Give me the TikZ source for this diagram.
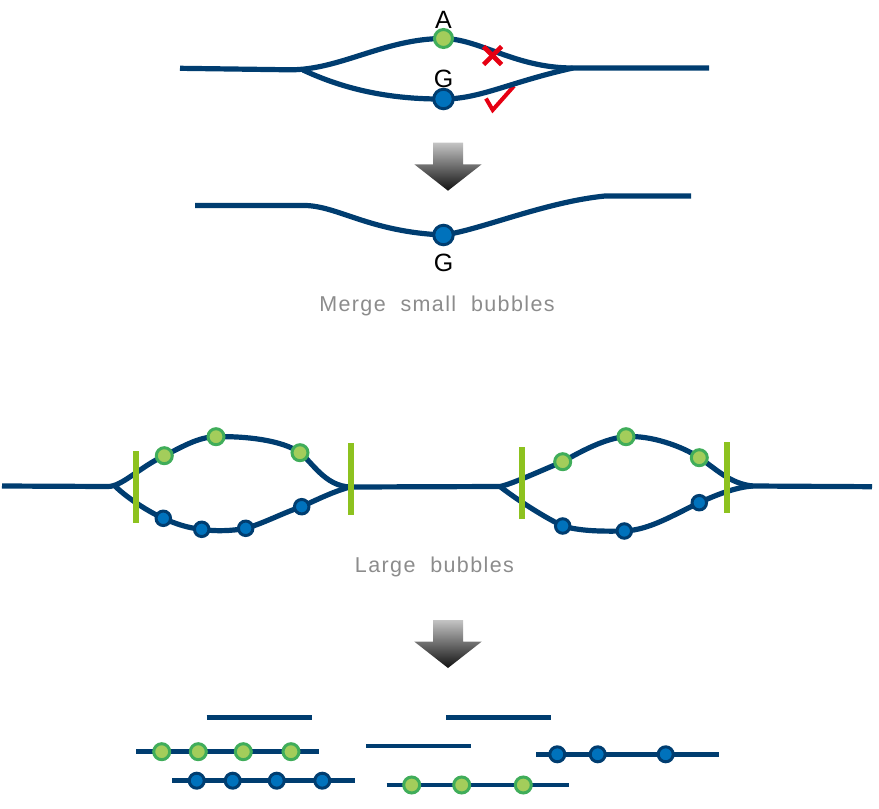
\documentclass[tikz,border=0pt]{standalone}
\usepackage{fontspec}
\setmainfont{Liberation Sans}
\newfontfamily\capfont[LetterSpace=6.5,WordSpace=2.0]{Liberation Sans}
\usetikzlibrary{calc}
\pgfdeclarelayer{bg}
\pgfsetlayers{bg,main}
\definecolor{navy}{HTML}{003D70}
\definecolor{gfill}{HTML}{A3CD5B}
\definecolor{gline}{HTML}{40AD5A}
\definecolor{bfill}{HTML}{0072BC}
\definecolor{bline}{HTML}{003D70}
\definecolor{barc}{HTML}{8DC21F}
\definecolor{redc}{HTML}{E60012}
\definecolor{textgray}{HTML}{8C8C8C}
\definecolor{arrtop}{HTML}{C4C4C4}
\definecolor{arrbot}{HTML}{111111}
\tikzset{
  strand/.style={draw=navy, line width=5.2pt, line cap=butt, line join=round},
  gdot/.style={circle, fill=gfill, draw=gline, line width=3pt, inner sep=0pt, minimum size=#1},
  gdot/.default=16pt,
  bdot/.style={circle, fill=bfill, draw=bline, line width=3pt, inner sep=0pt, minimum size=#1},
  bdot/.default=14.5pt,
  cutbar/.style={draw=barc, line width=5.8pt},
  lab/.style={font=\fontsize{25}{29}\selectfont, text=black, inner sep=0pt, anchor=base},
  caption/.style={font=\capfont\fontsize{21.5}{25}\selectfont, text=textgray, inner sep=0pt, anchor=base},
  mark red/.style={draw=redc, line width=4.6pt},
  downarr/.pic={
    \shade[top color=arrtop, bottom color=arrbot]
      (-15,0) -- (15,0) -- (15,21.6) -- (33.7,21.6) -- (0,48) -- (-33.7,21.6) -- (-15,21.6) -- cycle;
  }
}
\begin{document}
\begin{tikzpicture}[x=1pt,y=-1pt]
\useasboundingbox (0,0) rectangle (879,809);

% ================= TOP: small bubble =================
\node[gdot=18pt] (tA) at (443.5,38.5) {};
\node[bdot=19.5pt] (tG) at (443.5,99) {};
\node[lab] (tAl) at (443.5,28.3) {A};
\node[lab] (tGl) at (443.5,87.3) {G};
\coordinate (t0) at (180,68.3);
\coordinate (tk) at (290,69.8);
\coordinate (tj1) at (303,70);
\coordinate (tj2) at (573,68);
\coordinate (t9) at (709,68);
% red check (under the strands)
\coordinate (ck1) at (486,98.5);
\coordinate (ck2) at (492.7,110);
\coordinate (ck3) at (514,86);
\begin{pgfonlayer}{bg}
  \draw[draw=redc, line width=4pt, line join=miter] (ck1) -- (ck2) -- (ck3);
  \draw[strand] (t0) -- (tk) .. controls (340,70) and (385,38.5) .. (tA.center)
     .. controls (480,39) and (515,68) .. (tj2) -- (t9);
  \draw[strand] (tj1) .. controls (335,85) and (380,99.5) .. (tG.center)
     .. controls (480,99) and (510,82) .. (tj2);
\end{pgfonlayer}
% red cross
\coordinate (cx) at (492.5,55.5);
\draw[mark red] ($(cx)+(-9,-9)$) -- ($(cx)+(9,9)$);
\draw[mark red] ($(cx)+(-9,9)$) -- ($(cx)+(9,-9)$);

% arrow 1
\pic at (448,142.7) {downarr};

% ================= MIDDLE: merged =================
\node[bdot=19.5pt] (mG) at (443.5,235) {};
\node[lab] (mGl) at (443.5,271.5) {G};
\coordinate (m0) at (195,205.5);
\coordinate (m1) at (305,205.5);
\coordinate (m2) at (605,196);
\coordinate (m3) at (691,196);
\begin{pgfonlayer}{bg}
  \draw[strand] (m0) -- (m1) .. controls (338,206) and (370,232) .. (mG.center)
     .. controls (480,230) and (545,202) .. (m2) -- (m3);
\end{pgfonlayer}
\node[caption] (cap1) at (437,311.5) {Merge small bubbles};

% ================= LARGE BUBBLES =================
% left bubble
\coordinate (L0) at (2,486);
\coordinate (Lk) at (108,486.5);
\coordinate (Lj) at (115,486);
\coordinate (Lr) at (350,487);
\node[gdot] (lg1) at (164.3,455.7) {};
\node[gdot] (lg2) at (216,436.7) {};
\node[gdot] (lg3) at (300,452.7) {};
\node[bdot] (lb1) at (163.3,518.3) {};
\node[bdot] (lb2) at (201.7,529.3) {};
\node[bdot] (lb3) at (245.7,528.3) {};
\node[bdot] (lb4) at (301.7,506.7) {};
% right bubble
\coordinate (Rj) at (500,486.5);
\coordinate (Rr) at (753,486);
\coordinate (R9) at (872,486.7);
\node[gdot] (rg1) at (562.7,461.7) {};
\node[gdot] (rg2) at (626,436.7) {};
\node[gdot] (rg3) at (699.3,457.7) {};
\node[bdot] (rb1) at (562.7,526) {};
\node[bdot] (rb2) at (624.3,531) {};
\node[bdot] (rb3) at (699.3,502.7) {};
\begin{pgfonlayer}{bg}
  \draw[strand] (L0) -- (Lk) .. controls (122,486.5) and (140,467) .. (lg1.center)
     .. controls (182,447) and (198,437) .. (lg2.center)
     .. controls (245,436) and (282,440) .. (lg3.center)
     .. controls (312,462) and (325,486) .. (Lr) -- (Rj)
     .. controls (512,484) and (540,471) .. (rg1.center)
     .. controls (580,452) and (605,438) .. (rg2.center)
     .. controls (650,435) and (682,446) .. (rg3.center)
     .. controls (715,468) and (730,484) .. (Rr) -- (R9);
  \draw[strand] (Lj) .. controls (125,496) and (145,510) .. (lb1.center)
     .. controls (176,524) and (188,528) .. (lb2.center)
     .. controls (215,531.5) and (232,531) .. (lb3.center)
     .. controls (262,524) and (285,512) .. (lb4.center)
     .. controls (318,499) and (335,491) .. (Lr);
  \draw[strand] (Rj) .. controls (512,496) and (540,515) .. (rb1.center)
     .. controls (580,531) and (600,531.5) .. (rb2.center)
     .. controls (650,530) and (675,514) .. (rb3.center)
     .. controls (720,493) and (738,487) .. (Rr);
\end{pgfonlayer}
% cut bars
\coordinate (c1a) at (135.7,451); \coordinate (c1b) at (135.7,523);
\coordinate (c2a) at (351,443);   \coordinate (c2b) at (351,515);
\coordinate (c3a) at (522,447);   \coordinate (c3b) at (522,519);
\coordinate (c4a) at (727.3,442); \coordinate (c4b) at (727.3,513);
\draw[cutbar] (c1a) -- (c1b);
\draw[cutbar] (c2a) -- (c2b);
\draw[cutbar] (c3a) -- (c3b);
\draw[cutbar] (c4a) -- (c4b);
\node[caption] (cap2) at (434.5,572.7) {Large bubbles};

% arrow 2
\pic at (448,620) {downarr};

% ================= BOTTOM: reads =================
\coordinate (p1a) at (206.7,717.3); \coordinate (p1b) at (311.7,717.3);
\coordinate (p2a) at (446,717.3);   \coordinate (p2b) at (550.7,717.3);
\coordinate (p3a) at (366,746);     \coordinate (p3b) at (471,746);
\coordinate (q1a) at (136,751.7);   \coordinate (q1b) at (319.3,751.7);
\coordinate (q2a) at (172.3,780.7); \coordinate (q2b) at (355,780.7);
\coordinate (q3a) at (386.7,785);   \coordinate (q3b) at (569.3,785);
\coordinate (q4a) at (536,754.3);   \coordinate (q4b) at (718.7,754.3);
\node[gdot=16pt] (a1) at (161.7,751.7) {};
\node[gdot=16pt] (a2) at (198.3,751.7) {};
\node[gdot=16pt] (a3) at (243.3,751.7) {};
\node[gdot=16pt] (a4) at (291,751.7) {};
\node[bdot=15pt] (b1) at (196.7,780.7) {};
\node[bdot=15pt] (b2) at (232.7,780.7) {};
\node[bdot=15pt] (b3) at (276.7,780.7) {};
\node[bdot=15pt] (b4) at (322.3,780.7) {};
\node[gdot=16pt] (c1) at (411.7,785) {};
\node[gdot=16pt] (c2) at (461.7,785) {};
\node[gdot=16pt] (c3) at (523.3,785) {};
\node[bdot=15pt] (d1) at (557.3,754.3) {};
\node[bdot=15pt] (d2) at (597.7,754.3) {};
\node[bdot=15pt] (d3) at (665.7,754.3) {};
\begin{pgfonlayer}{bg}
  \draw[strand, line width=4.8pt] (p1a) -- (p1b);
  \draw[strand, line width=4.8pt] (p2a) -- (p2b);
  \draw[strand, line width=4.8pt] (p3a) -- (p3b);
  \draw[strand, line width=4.8pt] (q1a) -- (a1.center) -- (a2.center) -- (a3.center) -- (a4.center) -- (q1b);
  \draw[strand, line width=4.8pt] (q2a) -- (b1.center) -- (b2.center) -- (b3.center) -- (b4.center) -- (q2b);
  \draw[strand, line width=4.8pt] (q3a) -- (c1.center) -- (c2.center) -- (c3.center) -- (q3b);
  \draw[strand, line width=4.8pt] (q4a) -- (d1.center) -- (d2.center) -- (d3.center) -- (q4b);
\end{pgfonlayer}
\end{tikzpicture}
\end{document}
